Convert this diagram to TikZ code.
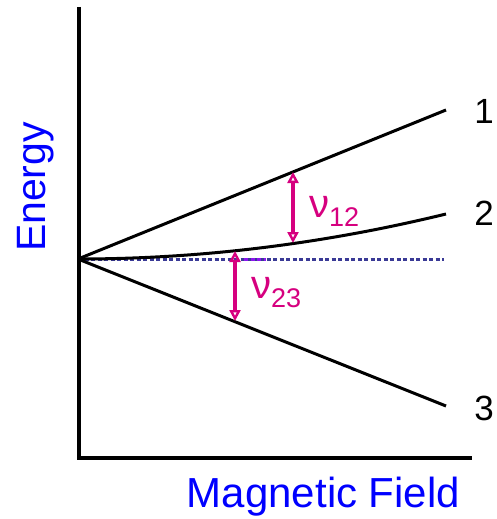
\documentclass[tikz,border=0pt]{standalone}
\usepackage{fontspec}
\setmainfont{Liberation Sans}
\usetikzlibrary{arrows.meta}
\definecolor{myblue}{RGB}{0,0,255}
\definecolor{mymagenta}{RGB}{214,0,127}
\definecolor{mydash}{RGB}{58,58,150}
\definecolor{myviolet}{RGB}{140,20,240}
\tikzset{
  axis/.style={line width=4pt},
  level/.style={line width=3pt},
  zero/.style={line width=3pt,dash pattern=on 4pt off 2.5pt},
  trans/.style={mymagenta,line width=3.2pt,
    {Triangle[open,length=11pt,width=11pt,line width=2.4pt]}-{Triangle[open,length=11pt,width=11pt,line width=2.4pt]}},
  lbl/.style={font=\fontsize{35}{36}\selectfont},
  title/.style={myblue,font=\fontsize{42}{44}\selectfont,inner sep=0pt},
  freq/.style={mymagenta,anchor=base west,inner sep=0pt,font=\fontsize{40}{42}\selectfont}
}
\newcommand\freqsub[1]{\fontsize{27}{28}\selectfont\raisebox{-9pt}{#1}}

\begin{document}
\begin{tikzpicture}[x=1pt,y=-1pt]
  \useasboundingbox (0,0) rectangle (497,519);
  \coordinate (O) at (78,259);
  \coordinate (T) at (78.5,7);
  \coordinate (C) at (78.5,457.5);
  \coordinate (R) at (472,457.5);
  \coordinate (E1) at (446,110);
  \coordinate (E2) at (446,214);
  \coordinate (E3) at (446,406);
  \coordinate (D) at (444,259);

  % AXIS
  \draw[axis] (T) -- (C) -- (R);
  \node[title,rotate=90,anchor=base,font=\fontsize{41}{44}\selectfont] (energy) at (45,187) {Energy};
  \node[title,anchor=base] (field) at (323.5,507) {Magnetic Field};

  % ZERO FIELD LEVEL
  \draw[zero,mydash] (O) -- (D);
  \draw[zero,myviolet] (244,259) -- (266,259);

  % LEVELS
  \draw[level] (O) -- (E1);
  \draw[level] (O) .. controls (200.3,259) and (322.7,244) .. (E2);
  \draw[level] (O) -- (E3);
  \node[lbl] (l1) at (484,111) {1};
  \node[lbl] (l2) at (484,213) {2};
  \node[lbl] (l3) at (484,408) {3};

  % TRANSITIONS
  \coordinate (a1) at (293,172);
  \coordinate (a2) at (293,243);
  \coordinate (b1) at (235,251);
  \coordinate (b2) at (235,321);
  \draw[trans] (a1) -- (a2);
  \draw[trans] (b1) -- (b2);
  \node[freq] (nu12) at (309,217) {ν\freqsub{12}};
  \node[freq] (nu23) at (251,298) {ν\freqsub{23}};
\end{tikzpicture}
\end{document}
